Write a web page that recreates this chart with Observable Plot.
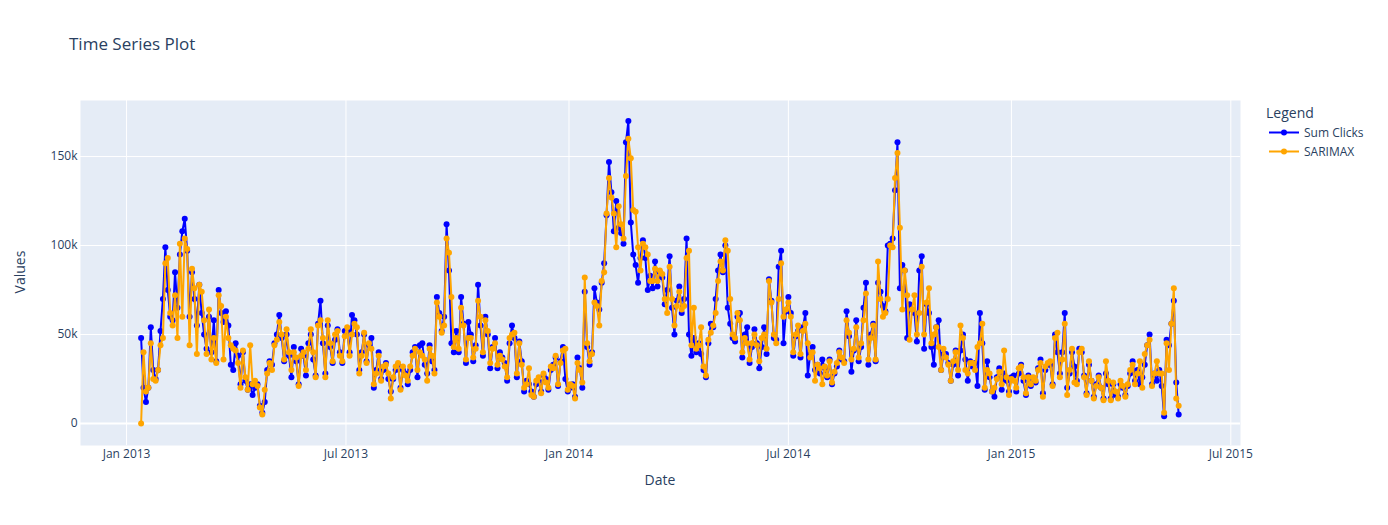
<!DOCTYPE html>
<html>
<head>
<meta charset="utf-8">
<script src="https://cdn.jsdelivr.net/npm/d3@7"></script>
<script src="https://cdn.jsdelivr.net/npm/@observablehq/plot@0.6"></script>
<style>
  body { margin: 0; background: #fff; }
  #wrap { position: relative; width: 1388px; height: 525px; font-family: "Open Sans", sans-serif; }
  #overlay { position: absolute; left: 0; top: 0; pointer-events: none; }
  #overlay text { font-family: "Open Sans", sans-serif; fill: #2a3f5f; }
</style>
</head>
<body>
<div id="wrap"></div>
<script>
// ---- data (values in thousands of clicks), sampled every 2 days from start ----
const startDate = "2013-01-13";
const stepDays = 2;

const sumClicks = [
  48,20,12,20,54,30,25,30,52,70,
  99,75,60,58,85,65,95,108,115,97,
  60,85,70,55,78,62,50,42,60,40,
  58,35,75,62,57,63,55,33,30,45,
  38,22,40,24,19,22,16,20,22,10,
  6,12,30,35,33,45,50,61,48,35,
  50,38,26,43,35,22,42,38,27,45,
  50,36,27,56,69,45,28,55,43,34,
  47,53,40,34,52,52,40,61,58,50,
  30,40,50,35,44,48,20,30,40,25,
  30,34,25,18,25,30,33,20,30,28,
  22,30,40,43,26,44,45,33,28,44,
  35,30,71,62,52,60,112,86,45,40,
  52,40,71,56,34,57,50,35,44,78,
  55,38,60,50,31,43,48,31,40,37,
  34,24,45,55,48,26,46,35,18,24,
  22,18,15,22,24,18,27,25,19,30,
  33,37,21,35,43,25,18,20,22,15,
  37,31,20,74,43,33,40,76,68,64,
  79,90,117,147,130,108,125,110,107,101,
  158,170,113,95,89,79,93,103,93,75,
  83,76,91,77,85,82,67,75,94,65,
  50,69,77,62,70,104,50,38,48,40,
  45,39,30,26,45,56,54,70,86,95,
  85,100,65,56,48,46,60,62,37,50,
  54,34,43,53,45,31,43,54,39,81,
  69,48,47,88,97,45,63,71,62,38,
  49,52,37,54,62,27,39,43,30,33,
  28,36,31,26,36,22,28,32,41,36,
  35,63,49,29,41,58,35,43,65,79,
  33,50,56,35,79,74,66,63,100,101,
  104,131,158,76,89,86,48,67,64,62,
  46,86,94,42,67,62,43,33,54,58,
  30,39,39,34,24,33,41,27,41,50,
  36,24,35,32,34,21,62,45,19,35,
  26,18,15,26,31,19,28,24,18,26,
  27,18,28,33,24,16,27,21,25,23,
  31,36,17,30,33,33,22,50,40,28,
  40,62,20,28,40,32,24,42,40,27,
  17,33,24,15,22,27,20,14,28,22,
  14,22,16,15,22,20,16,21,28,35,
  24,30,22,26,33,44,50,22,28,24,
  30,21,4,47,44,56,69,23,5
];

const sarimax = [
  0,40,18,20,45,25,24,30,44,48,
  90,93,62,55,72,48,101,60,104,98,
  44,87,76,39,78,74,58,39,64,36,
  48,34,72,66,36,60,48,44,42,41,
  34,20,41,26,19,44,22,24,21,9,
  5,19,28,34,30,44,47,57,50,36,
  53,40,30,40,37,21,38,40,30,42,
  53,40,26,55,58,48,26,58,45,35,
  50,52,38,35,49,54,38,50,56,54,
  28,38,51,34,45,42,22,28,38,24,
  32,33,28,14,26,32,34,19,32,27,
  24,32,38,42,30,40,38,36,24,42,
  38,28,68,60,51,55,104,96,71,43,
  48,42,65,55,36,48,48,37,42,69,
  60,40,58,52,34,42,45,33,38,36,
  32,26,48,50,51,28,45,33,20,22,
  31,16,15,24,26,17,28,23,20,32,
  31,38,22,34,41,42,19,22,21,14,
  34,30,23,82,45,35,39,68,66,55,
  80,85,118,138,127,118,99,122,112,104,
  139,160,149,120,119,99,86,101,99,95,
  80,80,87,80,86,84,70,62,88,70,
  55,66,74,64,66,93,97,44,65,42,
  44,54,32,27,47,51,55,62,80,91,
  86,103,97,70,50,48,62,58,40,48,
  45,36,45,50,44,35,48,50,42,80,
  68,50,45,70,90,60,64,68,60,40,
  50,55,39,52,56,45,37,40,24,33,
  31,22,32,27,35,23,29,34,40,37,
  34,58,51,36,42,54,37,45,58,73,
  36,48,55,36,91,70,60,62,70,100,
  99,138,152,110,64,86,72,47,64,72,
  50,62,88,50,68,76,45,50,54,43,
  30,42,37,33,24,35,40,30,55,48,
  30,28,34,34,30,43,45,56,20,30,
  28,18,20,25,29,22,41,26,16,25,
  24,20,31,32,26,17,26,22,26,24,
  30,34,15,32,34,35,21,48,51,26,
  36,56,16,30,42,23,22,40,42,26,
  16,35,24,14,21,26,20,13,35,24,
  13,23,18,14,24,21,15,22,30,33,
  22,28,35,20,39,44,47,21,28,35,
  28,28,6,45,30,56,76,14,10
];

const seriesNames = ["Sum Clicks", "SARIMAX"];
const seriesColors = ["blue", "orange"];
const xTickDates = ["2013-01-01","2013-07-01","2014-01-01","2014-07-01","2015-01-01","2015-07-01"];
const yTickValues = [0, 50, 100, 150];

// ---- build tables ----
const start = new Date(startDate + "T00:00:00Z");
const toRows = (arr) => arr.map((v, i) => ({date: d3.utcDay.offset(start, i * stepDays), value: v}));
const blueRows = toRows(sumClicks);
const orangeRows = toRows(sarimax);
const xTicks = xTickDates.map(s => new Date(s + "T00:00:00Z"));

const W = 1388, H = 525;
const chart = Plot.plot({
  width: W,
  height: H,
  marginLeft: 80,
  marginRight: 148,
  marginTop: 100,
  marginBottom: 80,
  style: {fontFamily: "'Open Sans', sans-serif", fontSize: "12px", color: "#2a3f5f", background: "transparent", overflow: "visible"},
  x: {type: "utc", domain: [new Date("2012-11-24T00:00:00Z"), new Date("2015-07-09T00:00:00Z")]},
  y: {domain: [-12.4, 181.5]},
  marks: [
    Plot.frame({fill: "#E5ECF6", stroke: null}),
    Plot.gridX(xTicks, {stroke: "white", strokeOpacity: 1, strokeWidth: 1}),
    Plot.gridY(yTickValues.filter(d => d !== 0), {stroke: "white", strokeOpacity: 1, strokeWidth: 1}),
    Plot.ruleY([0], {stroke: "white", strokeWidth: 2}),
    Plot.axisX({ticks: xTicks, tickSize: 0, tickPadding: 4, tickFormat: d3.utcFormat("%b %Y"), label: null}),
    Plot.axisY({ticks: yTickValues, tickSize: 0, tickPadding: 3, tickFormat: d => d === 0 ? "0" : d + "k", label: null}),
    Plot.line(blueRows, {x: "date", y: "value", stroke: seriesColors[0], strokeWidth: 2}),
    Plot.dot(blueRows, {x: "date", y: "value", fill: seriesColors[0], r: 3}),
    Plot.line(orangeRows, {x: "date", y: "value", stroke: seriesColors[1], strokeWidth: 2}),
    Plot.dot(orangeRows, {x: "date", y: "value", fill: seriesColors[1], r: 3})
  ]
});
const wrap = document.getElementById("wrap");
wrap.appendChild(chart);

// ---- overlay: title, axis titles, legend ----
const ns = "http://www.w3.org/2000/svg";
const ov = document.createElementNS(ns, "svg");
ov.setAttribute("id", "overlay");
ov.setAttribute("width", W);
ov.setAttribute("height", H);
function txt(x, y, s, size, extra) {
  const t = document.createElementNS(ns, "text");
  t.setAttribute("x", x); t.setAttribute("y", y);
  t.setAttribute("font-size", size);
  if (extra) for (const k in extra) t.setAttribute(k, extra[k]);
  t.textContent = s;
  ov.appendChild(t);
  return t;
}
txt(69, 50, "Time Series Plot", 17);
txt(660, 485, "Date", 14, {"text-anchor": "middle"});
txt(0, 0, "Values", 14, {"text-anchor": "middle", transform: "translate(25,272) rotate(-90)"});
txt(1266, 118, "Legend", 14);
seriesNames.forEach((name, k) => {
  const cy = 132.5 + k * 19;
  const l = document.createElementNS(ns, "line");
  l.setAttribute("x1", 1269); l.setAttribute("x2", 1299);
  l.setAttribute("y1", cy); l.setAttribute("y2", cy);
  l.setAttribute("stroke", seriesColors[k]); l.setAttribute("stroke-width", 2);
  ov.appendChild(l);
  const c = document.createElementNS(ns, "circle");
  c.setAttribute("cx", 1284); c.setAttribute("cy", cy); c.setAttribute("r", 3);
  c.setAttribute("fill", seriesColors[k]);
  ov.appendChild(c);
  txt(1304, cy + 4.2, name, 12);
});
wrap.appendChild(ov);
</script>
</body>
</html>
